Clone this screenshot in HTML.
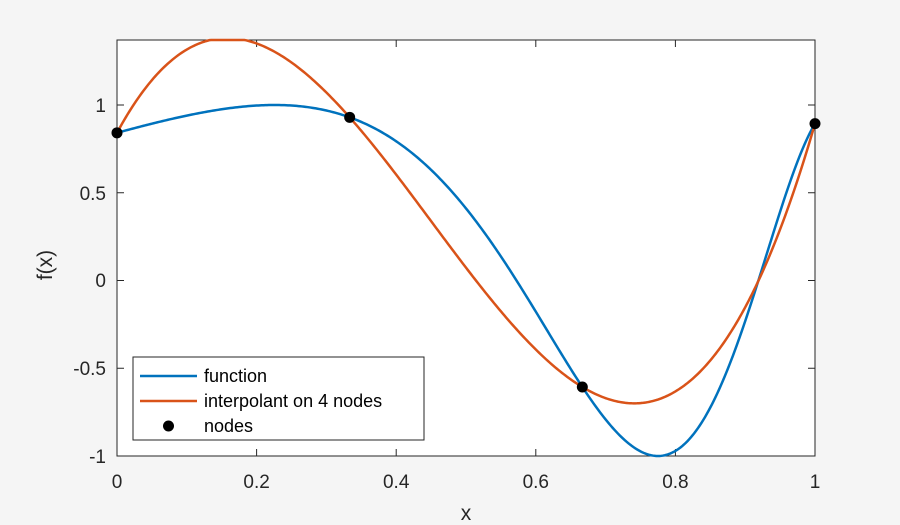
<!DOCTYPE html>
<html><head><style>
body{margin:0;background:#f5f5f5;}
svg{display:block;font-family:"Liberation Sans",sans-serif;}
</style></head><body>
<svg id="s" width="900" height="525" xmlns="http://www.w3.org/2000/svg">
<rect x="0" y="0" width="900" height="525" fill="#f5f5f5"/>
<rect x="117" y="40" width="698" height="416" fill="#fff" stroke="#262626" stroke-width="1"/>
<g id="ticks" stroke="#262626" stroke-width="1"></g>
<g font-size="19" fill="#262626" text-anchor="middle">
<text x="117" y="488">0</text><text x="256.6" y="488">0.2</text><text x="396.2" y="488">0.4</text>
<text x="535.8" y="488">0.6</text><text x="675.4" y="488">0.8</text><text x="815" y="488">1</text>
</g>
<g font-size="19" fill="#262626" text-anchor="end">
<text x="106" y="112">1</text><text x="106" y="200">0.5</text><text x="106" y="287">0</text>
<text x="106" y="375">-0.5</text><text x="106" y="463">-1</text>
</g>
<text x="466" y="520" font-size="21" fill="#262626" text-anchor="middle">x</text>
<text transform="translate(52,265) rotate(-90)" font-size="21" fill="#262626" text-anchor="middle">f(x)</text>
<path id="pf" fill="none" stroke="#0072BD" stroke-width="2.5"/>
<path id="pi" fill="none" stroke="#D95319" stroke-width="2.5"/>
<g id="nodes" fill="#000"></g>
<rect x="133" y="357" width="291" height="83" fill="#fff" stroke="#262626" stroke-width="1"/>
<line x1="140" y1="376" x2="197" y2="376" stroke="#0072BD" stroke-width="2.5"/>
<line x1="140" y1="401" x2="197" y2="401" stroke="#D95319" stroke-width="2.5"/>
<circle cx="168.5" cy="426" r="5.5" fill="#000"/>
<g font-size="18" fill="#000">
<text x="204" y="382">function</text>
<text x="204" y="407">interpolant on 4 nodes</text>
<text x="204" y="432">nodes</text>
</g>
</svg>
<script>
var X=function(x){return 117+698*x},Y=function(y){return 280.5-175.5*y};
var f=function(x){return Math.sin(Math.exp(2*x))};
var xs=[0,1/3,2/3,1],ys=xs.map(f);
function p(x){var s=0;for(var i=0;i<4;i++){var t=ys[i];for(var j=0;j<4;j++)if(j!=i)t*=(x-xs[j])/(xs[i]-xs[j]);s+=t;}return s;}
var a="",b="";for(var k=0;k<=400;k++){var x=k/400;a+=(k?"L":"M")+X(x).toFixed(2)+","+Y(f(x)).toFixed(2);b+=(k?"L":"M")+X(x).toFixed(2)+","+Math.max(40,Y(p(x))).toFixed(2);}
document.getElementById("pf").setAttribute("d",a);document.getElementById("pi").setAttribute("d",b);
var n="";for(var i=0;i<4;i++)n+='<circle cx="'+X(xs[i])+'" cy="'+Y(ys[i])+'" r="5.5"/>';
document.getElementById("nodes").innerHTML=n;
var t="";[0,.2,.4,.6,.8,1].forEach(function(v){var x=X(v);t+='<line x1="'+x+'" y1="456" x2="'+x+'" y2="449"/><line x1="'+x+'" y1="40" x2="'+x+'" y2="47"/>';});
[-1,-.5,0,.5,1].forEach(function(v){var y=Y(v);t+='<line x1="117" y1="'+y+'" x2="124" y2="'+y+'"/><line x1="815" y1="'+y+'" x2="808" y2="'+y+'"/>';});
document.getElementById("ticks").innerHTML=t;
</script>
</body></html>
